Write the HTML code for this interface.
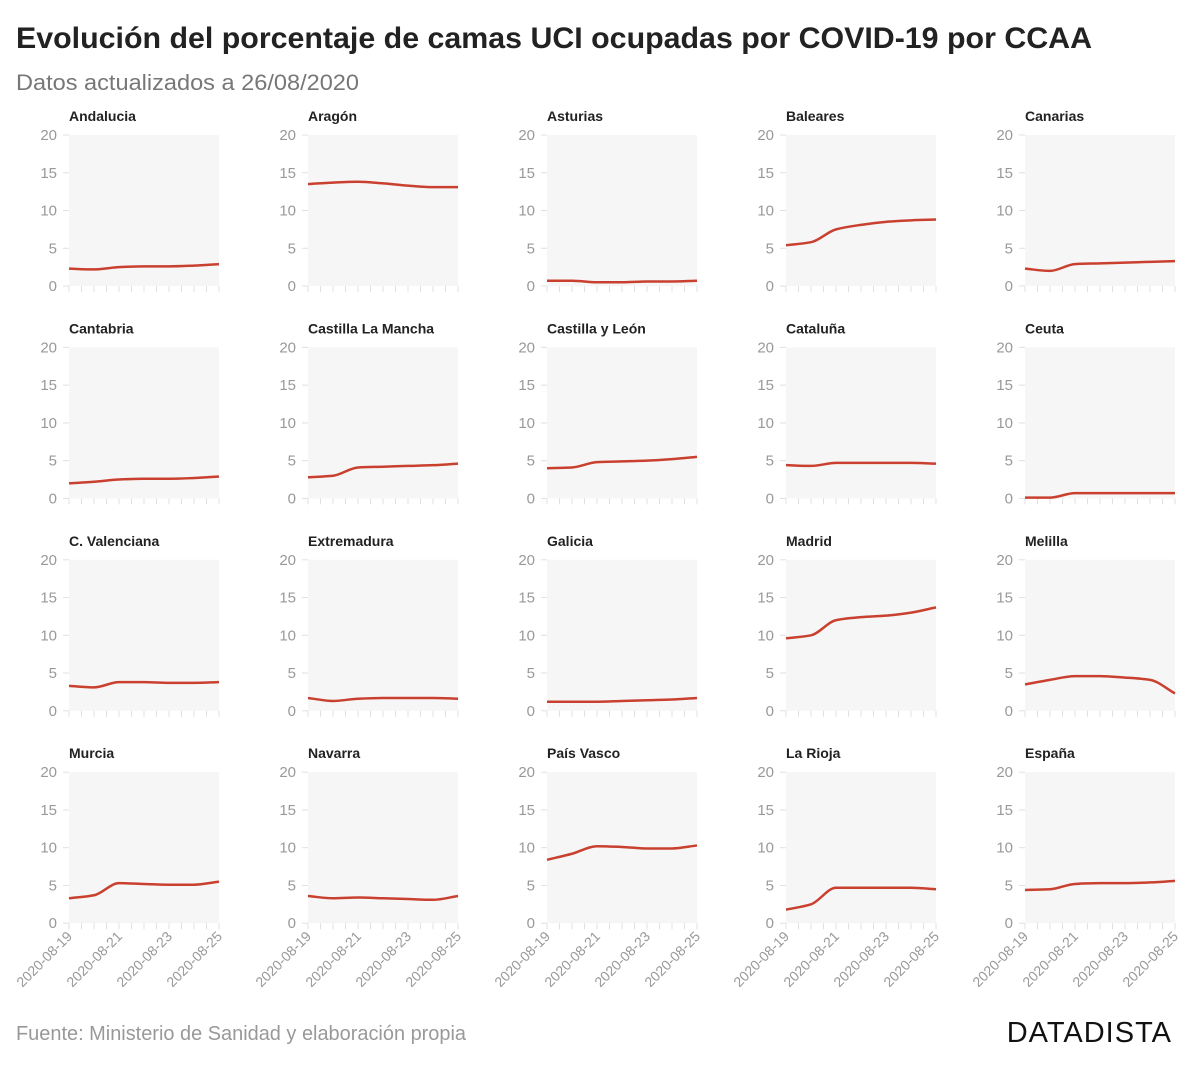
<!DOCTYPE html>
<html><head><meta charset="utf-8">
<style>
body{margin:0;background:#fff;font-family:"Liberation Sans",sans-serif;}
svg text{font-family:"Liberation Sans",sans-serif;}
</style></head>
<body>
<svg id="c" width="1200" height="1067">
<text x="16" y="48" font-size="30" font-weight="bold" fill="#222" textLength="1076" lengthAdjust="spacingAndGlyphs">Evolución del porcentaje de camas UCI ocupadas por COVID-19 por CCAA</text>
<text x="16" y="90" font-size="22" fill="#777" textLength="343" lengthAdjust="spacingAndGlyphs">Datos actualizados a 26/08/2020</text>
<text x="16" y="1040" font-size="20" fill="#999" textLength="450" lengthAdjust="spacingAndGlyphs">Fuente: Ministerio de Sanidad y elaboración propia</text>
<text x="1172" y="1042" font-size="29" fill="#111" text-anchor="end" letter-spacing="1">DATADISTA</text>
</svg>
<script>
const regions=["Andalucia","Aragón","Asturias","Baleares","Canarias","Cantabria","Castilla La Mancha","Castilla y León","Cataluña","Ceuta","C. Valenciana","Extremadura","Galicia","Madrid","Melilla","Murcia","Navarra","País Vasco","La Rioja","España"];
const dates=["2020-08-19","2020-08-20","2020-08-21","2020-08-22","2020-08-23","2020-08-24","2020-08-25"];
const xTickLabels=["2020-08-19","2020-08-21","2020-08-23","2020-08-25"];
const yTicks=[0,5,10,15,20];
const values=[
[2.3,2.2,2.5,2.6,2.6,2.7,2.9],
[13.5,13.7,13.8,13.6,13.3,13.1,13.1],
[0.7,0.7,0.5,0.5,0.6,0.6,0.7],
[5.4,5.8,7.5,8.1,8.5,8.7,8.8],
[2.3,2.0,2.9,3.0,3.1,3.2,3.3],
[2.0,2.2,2.5,2.6,2.6,2.7,2.9],
[2.8,3.0,4.1,4.2,4.3,4.4,4.6],
[4.0,4.1,4.8,4.9,5.0,5.2,5.5],
[4.4,4.3,4.7,4.7,4.7,4.7,4.6],
[0.1,0.1,0.7,0.7,0.7,0.7,0.7],
[3.3,3.1,3.8,3.8,3.7,3.7,3.8],
[1.7,1.3,1.6,1.7,1.7,1.7,1.6],
[1.2,1.2,1.2,1.3,1.4,1.5,1.7],
[9.6,10.0,12.0,12.4,12.6,13.0,13.7],
[3.5,4.1,4.6,4.6,4.4,4.1,2.3],
[3.3,3.7,5.3,5.2,5.1,5.1,5.5],
[3.6,3.3,3.4,3.3,3.2,3.1,3.6],
[8.4,9.2,10.2,10.1,9.9,9.9,10.3],
[1.8,2.5,4.7,4.7,4.7,4.7,4.5],
[4.4,4.5,5.2,5.3,5.3,5.4,5.6]
];
const NS="http://www.w3.org/2000/svg";
const svg=document.getElementById("c");
const W=150,H=151;
function mk(t,a){const e=document.createElementNS(NS,t);for(const k in a)e.setAttribute(k,a[k]);return e;}
function monotone(pts){
  const n=pts.length,d=[],m=[];
  for(let i=0;i<n-1;i++)d.push((pts[i+1][1]-pts[i][1])/(pts[i+1][0]-pts[i][0]));
  m[0]=d[0];m[n-1]=d[n-2];
  for(let i=1;i<n-1;i++){m[i]=(d[i-1]*d[i]<=0)?0:2/(1/d[i-1]+1/d[i]);}
  let p="M"+pts[0][0]+","+pts[0][1];
  for(let i=0;i<n-1;i++){const h=(pts[i+1][0]-pts[i][0])/3;
    p+=" C"+(pts[i][0]+h)+","+(pts[i][1]+h*m[i])+" "+(pts[i+1][0]-h)+","+(pts[i+1][1]-h*m[i+1])+" "+pts[i+1][0]+","+pts[i+1][1];}
  return p;
}
regions.forEach((name,idx)=>{
  const c=idx%5,r=Math.floor(idx/5);
  const x0=69+239*c,y0=135+212.4*r;
  const g=mk("g",{transform:`translate(${x0},${y0})`});
  
  
  svg.appendChild(g);
  const ys=v=>H-v/20*H;
  const xs=i=>i/(dates.length-1)*W;
  const bg=mk("rect",{x:0,y:0,width:W,height:H,fill:"#f6f6f6"});
  
  
  g.appendChild(bg);
  const t=mk("text",{x:0,y:-14,"font-size":14,"font-weight":"bold",fill:"#222"});
  
  
  t.textContent=name;g.appendChild(t);
  yTicks.forEach(v=>{
    const tl=mk("text",{x:-12,y:ys(v)+5,"font-size":15,fill:"#999","text-anchor":"end"});
    
    
    tl.textContent=v;g.appendChild(tl);
    g.appendChild(mk("line",{x1:-6,x2:0,y1:ys(v),y2:ys(v),stroke:"#e0e0e0"}));
  });
  for(let k=0;k<=12;k++){const x=k/12*W;g.appendChild(mk("line",{x1:x,x2:x,y1:H,y2:H+6,stroke:"#e0e0e0"}));}
  if(r===3){
    xTickLabels.forEach(s=>{
      const i=dates.indexOf(s);
      const tl=mk("text",{transform:`translate(${xs(i)+4},${H+14}) rotate(-45)`,"font-size":14,fill:"#999","text-anchor":"end"});
      
      
      tl.textContent=s;g.appendChild(tl);
    });
  }
  const pts=values[idx].map((v,i)=>[xs(i),ys(v)]);
  const ln=mk("path",{d:monotone(pts),fill:"none",stroke:"#c9402f","stroke-width":2.5});
  
  
  g.appendChild(ln);
});
</script>
</body></html>
